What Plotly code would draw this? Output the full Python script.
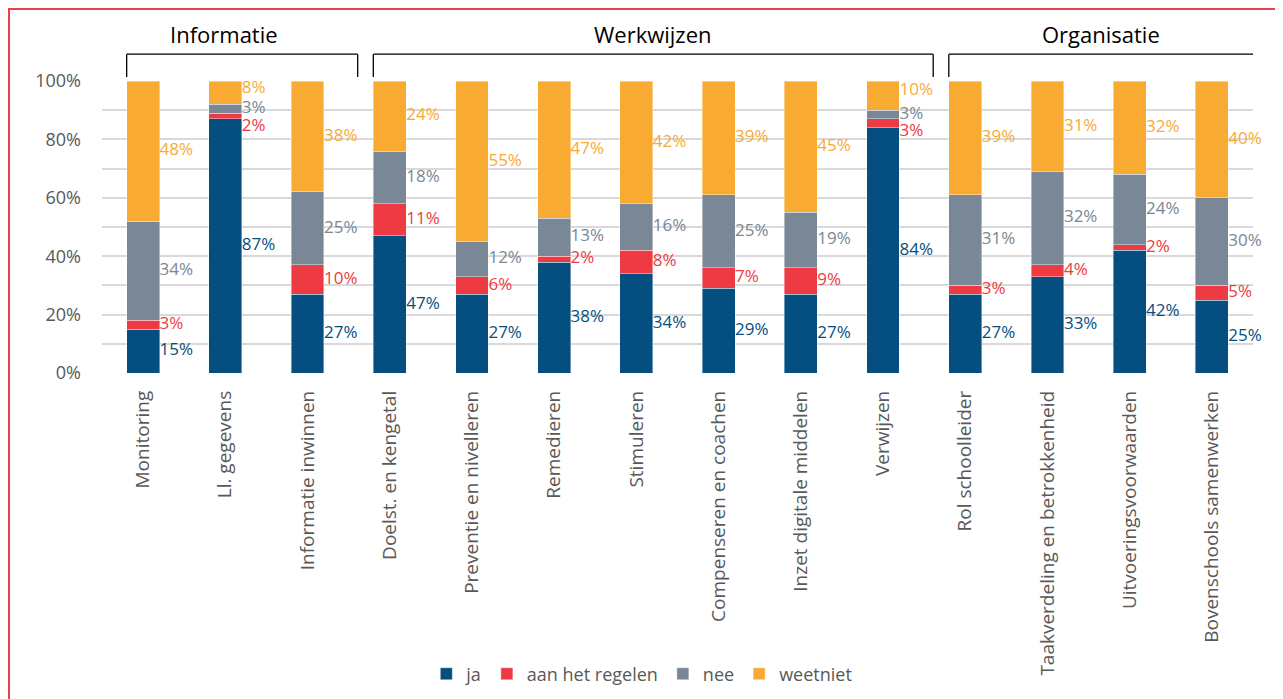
import plotly.graph_objects as go

categories = [
    "Monitoring", "Ll. gegevens", "Informatie inwinnen",
    "Doelst. en kengetal", "Preventie en nivelleren", "Remedieren", "Stimuleren",
    "Compenseren en coachen", "Inzet digitale middelen", "Verwijzen",
    "Rol schoolleider", "Taakverdeling en betrokkenheid", "Uitvoeringsvoorwaarden",
    "Bovenschools samenwerken",
]
ja = [15, 87, 27, 47, 27, 38, 34, 29, 27, 84, 27, 33, 42, 25]
aan_het_regelen = [3, 2, 10, 11, 6, 2, 8, 7, 9, 3, 3, 4, 2, 5]
nee = [34, 3, 25, 18, 12, 13, 16, 25, 19, 3, 31, 32, 24, 30]
weetniet = [48, 8, 38, 24, 55, 47, 42, 39, 45, 10, 39, 31, 32, 40]

series_names = ["ja", "aan het regelen", "nee", "weetniet"]
series_values = [ja, aan_het_regelen, nee, weetniet]
series_colors = ["#044f80", "#ee3a43", "#7a8796", "#f9aa33"]

groups = [("Informatie", 0, 2), ("Werkwijzen", 3, 9), ("Organisatie", 10, 13)]
title_shift = [-0.22, 0.0, -0.05]

y_ticks = [0, 20, 40, 60, 80, 100]
y_tick_labels = [f"{v}%" for v in y_ticks]

FONT = "Open Sans"
GREY = "#595959"
BAR_W = 0.4
x_pos = list(range(len(categories)))

fig = go.Figure()
for name, vals, col in zip(series_names, series_values, series_colors):
    fig.add_trace(go.Bar(
        x=x_pos, y=vals, name=name, width=BAR_W,
        marker=dict(color=col, line=dict(color="rgba(255,255,255,0.5)", width=0.8)),
        hoverinfo="skip",
    ))

# label positions: segment centres, spread apart when too close
MIN_GAP = 6.0
label_y = [[0.0] * len(categories) for _ in series_values]
for i in range(len(categories)):
    base = 0
    centres = []
    for vals in series_values:
        centres.append(base + vals[i] / 2)
        base += vals[i]
    ys = centres[:]
    # allow the top label to rise a little (up to 97.5) before pushing lower ones down
    need = 0.0
    for k in range(len(ys) - 2, -1, -1):
        need = max(need, ys[k] - (ys[k + 1] - MIN_GAP))
    ys[-1] = min(ys[-1] + min(need, 1.5), 97.5) if need > 0 else ys[-1]
    for k in range(len(ys) - 2, -1, -1):
        ys[k] = min(ys[k], ys[k + 1] - MIN_GAP)
    for k in range(len(ys)):
        label_y[k][i] = ys[k]

for k, (vals, col) in enumerate(zip(series_values, series_colors)):
    fig.add_trace(go.Scatter(
        x=[x + BAR_W / 2 for x in x_pos], y=label_y[k], mode="text",
        text=[f"{v}%" for v in vals], textposition="middle right",
        textfont=dict(family=FONT, size=17, color=col),
        showlegend=False, hoverinfo="skip", cliponaxis=False,
    ))

# group brackets and titles
y_top = 1.092
y_bot = 1.0137
for (gname, s, e), shift in zip(groups, title_shift):
    x0 = s - BAR_W / 2
    x1 = e + 0.61
    line = dict(color="black", width=1.3)
    fig.add_shape(type="line", xref="x", yref="paper", x0=x0, x1=x0, y0=y_bot, y1=y_top, line=line)
    fig.add_shape(type="line", xref="x", yref="paper", x0=x0, x1=x1, y0=y_top, y1=y_top, line=line)
    fig.add_shape(type="line", xref="x", yref="paper", x0=x1, x1=x1, y0=y_bot, y1=y_top, line=line)
    fig.add_annotation(x=(x0 + x1) / 2 + shift, y=1.16, xref="x", yref="paper",
                       text=gname, showarrow=False, xanchor="center", yanchor="middle",
                       font=dict(family=FONT, size=22, color="black"))

# red frame (only top and left visible within the picture)
fig.add_shape(type="rect", xref="paper", yref="paper",
              x0=-0.0808, x1=1.06, y0=-1.3, y1=1.2466,
              line=dict(color="#e8414a", width=2), layer="below")

fig.update_layout(
    width=1283, height=699,
    margin=dict(l=94, r=38, t=73, b=334),
    barmode="stack",
    plot_bgcolor="white", paper_bgcolor="white",
    font=dict(family=FONT, color=GREY),
    showlegend=True,
    legend=dict(orientation="h", x=0.469, xanchor="center", y=-1.031, yanchor="middle",
                traceorder="normal", font=dict(family=FONT, size=18, color=GREY),
                itemwidth=30),
    xaxis=dict(
        range=[-0.5, len(categories) - 0.5],
        tickmode="array", tickvals=x_pos, ticktext=categories,
        tickangle=-90, tickfont=dict(family=FONT, size=19, color=GREY),
        showgrid=False, zeroline=False, showline=False, ticks="",
        ticklabelstandoff=13, fixedrange=True,
    ),
    yaxis=dict(
        range=[0, 100], tickmode="array", tickvals=y_ticks, ticktext=y_tick_labels,
        tickfont=dict(family=FONT, size=18, color=GREY),
        showgrid=True, gridcolor="#d9d9d9", gridwidth=1.5,
        minor=dict(dtick=10, showgrid=True, gridcolor="#d9d9d9", gridwidth=1.5),
        zeroline=False, showline=False, ticks="", ticklabelstandoff=20,
        fixedrange=True,
    ),
)

fig.write_html("out.html")
